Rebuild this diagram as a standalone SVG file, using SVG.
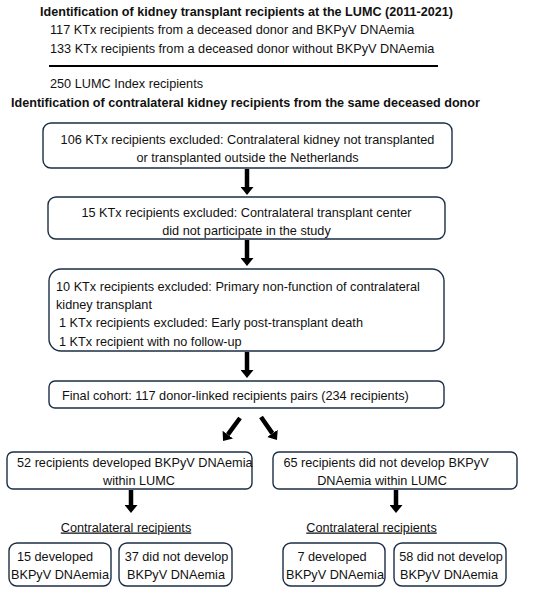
<svg xmlns="http://www.w3.org/2000/svg" width="550" height="595" viewBox="0 0 550 595">
<defs>
<style>
text{font-family:"Liberation Sans",Arial,sans-serif;font-size:12.7px;fill:#111}
.b{font-weight:bold;font-size:12.6px}
.c{text-anchor:middle}
.box{fill:#fff;stroke:#1c2e45;stroke-width:1.4}
.arr{stroke:#000;stroke-width:4.5;fill:none;marker-end:url(#ah)}
.u{text-decoration:underline}
</style>
<marker id="ah" markerUnits="userSpaceOnUse" markerWidth="8" markerHeight="13" viewBox="0 0 8 13" refX="0" refY="6.5" orient="auto">
<path d="M0,0 L8,6.5 L0,13 Z" fill="#000"/>
</marker>
</defs>
<rect width="550" height="595" fill="#fff"/>
<g id="header">
<text class="b" x="40" y="15.5">Identification of kidney transplant recipients at the LUMC (2011-2021)</text>
<text x="50" y="33.5">117 KTx recipients from a deceased donor and BKPyV DNAemia</text>
<text x="50" y="52.5">133 KTx recipients from a deceased donor without BKPyV DNAemia</text>
<line x1="49" y1="66" x2="438" y2="66" stroke="#000" stroke-width="1.8"/>
<text x="50" y="87.5">250 LUMC Index recipients</text>
<text class="b" x="11" y="106.5">Identification of contralateral kidney recipients from the same deceased donor</text>
</g>
<g id="n1">
<rect class="box" x="43" y="123" width="409" height="45" rx="8"/>
<text class="c" x="247.5" y="143.5">106 KTx recipients excluded: Contralateral kidney not transplanted</text>
<text class="c" x="247.5" y="161.5">or transplanted outside the Netherlands</text>
</g>
<g id="n2">
<rect class="box" x="48" y="197" width="397" height="42" rx="8"/>
<text class="c" x="246.5" y="216.5">15 KTx recipients excluded: Contralateral transplant center</text>
<text class="c" x="246.5" y="234.5">did not participate in the study</text>
</g>
<g id="n3">
<rect class="box" x="49" y="269" width="395" height="82" rx="12"/>
<text x="56" y="290.5">10 KTx recipients excluded: Primary non-function of contralateral</text>
<text x="56" y="308.5">kidney transplant</text>
<text x="59" y="327">1 KTx recipients excluded: Early post-transplant death</text>
<text x="59" y="345.5">1 KTx recipient with no follow-up</text>
</g>
<g id="n4">
<rect class="box" x="49" y="381" width="395" height="27" rx="6"/>
<text x="62" y="399.5">Final cohort: 117 donor-linked recipients pairs (234 recipients)</text>
</g>
<g id="n5">
<rect class="box" x="7" y="452" width="245" height="37" rx="6"/>
<text x="17" y="466.5">52 recipients developed BKPyV DNAemia</text>
<text class="c" x="139" y="484.5">within LUMC</text>
</g>
<g id="n6">
<rect class="box" x="273" y="452" width="244" height="37" rx="6"/>
<text class="c" x="386" y="466.5">65 recipients did not develop BKPyV</text>
<text class="c" x="382" y="484.5">DNAemia within LUMC</text>
</g>
<g id="labels">
<text class="c u" x="126" y="531.5">Contralateral recipients</text>
<text class="c u" x="371.5" y="531.5">Contralateral recipients</text>
</g>
<g id="n7">
<rect class="box" x="9" y="543" width="102" height="43" rx="8"/>
<text class="c" x="55" y="560.5">15 developed</text>
<text class="c" x="60" y="578.5">BKPyV DNAemia</text>
</g>
<g id="n8">
<rect class="box" x="119" y="543" width="113" height="43" rx="8"/>
<text class="c" x="176.5" y="560.5">37 did not develop</text>
<text class="c" x="176" y="578.5">BKPyV DNAemia</text>
</g>
<g id="n9">
<rect class="box" x="283" y="543" width="102" height="43" rx="8"/>
<text class="c" x="332" y="560.5">7 developed</text>
<text class="c" x="335" y="578.5">BKPyV DNAemia</text>
</g>
<g id="n10">
<rect class="box" x="394" y="543" width="112" height="43" rx="8"/>
<text class="c" x="451" y="560.5">58 did not develop</text>
<text class="c" x="449" y="578.5">BKPyV DNAemia</text>
</g>
<g id="connectors">
<line class="arr" x1="247" y1="169" x2="247" y2="187"/>
<line class="arr" x1="247" y1="240" x2="247" y2="258"/>
<line class="arr" x1="247" y1="352" x2="247" y2="370"/>
<line class="arr" x1="240" y1="418" x2="227.8" y2="434.6"/>
<line class="arr" x1="261" y1="417" x2="272.4" y2="433.4"/>
<line class="arr" x1="131" y1="490" x2="131" y2="505"/>
<line class="arr" x1="396" y1="490" x2="396" y2="505"/>
</g>
</svg>
